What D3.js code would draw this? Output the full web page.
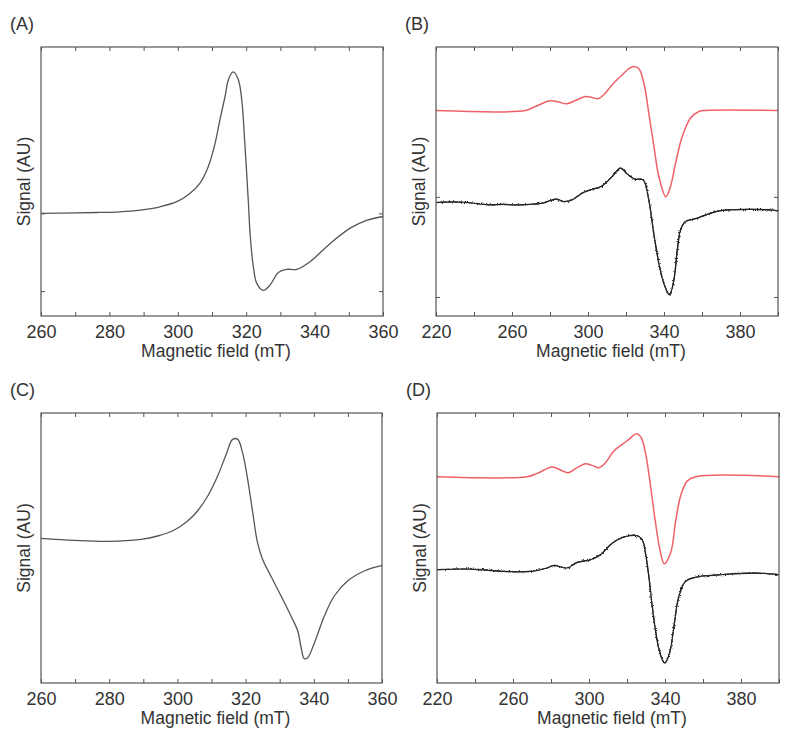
<!DOCTYPE html>
<html>
<head>
<meta charset="utf-8">
<script src="https://cdn.jsdelivr.net/npm/d3@7/dist/d3.min.js"></script>
<style>
  html, body { margin: 0; padding: 0; background: #fff; }
  svg text { font-family: "Liberation Sans", Arial, sans-serif; fill: #333; }
</style>
</head>
<body>
<svg id="chart" width="786" height="739"></svg>
<script>
// ---------- DATA ----------
// Panel A
const fieldA  = [260, 270, 277, 283, 289, 294.8, 299.7, 303.6, 306.5, 308.9, 310.9, 312.3, 313.8, 314.8, 316.2, 317.7, 318.7, 319.6, 320.6, 321.2, 322.1, 323.1, 325, 327, 329.4, 331.8, 334.8, 338.7, 344.5, 350.4, 355.2, 360];
const signalA = [0, 0.006, 0.012, 0.02, 0.042, 0.085, 0.15, 0.26, 0.39, 0.60, 0.90, 1.20, 1.50, 1.72, 1.82, 1.72, 1.46, 0.90, 0.17, -0.30, -0.69, -0.90, -0.99, -0.92, -0.76, -0.72, -0.72, -0.62, -0.39, -0.19, -0.09, -0.04];

// Panel B : simulated (red) and experimental (black)
const fieldBsim  = [220, 267, 272.3, 280.2, 284.6, 289, 293.4, 298.7, 302.2, 305.4, 308.3, 312.7, 318, 321.5, 324.1, 326.8, 329.4, 332, 334.7, 337.3, 341, 343.4, 346.1, 349.6, 354, 358.4, 361.9, 400];
const signalBsim = [0.863, 0.863, 0.903, 0.96, 0.947, 0.93, 0.963, 1.003, 0.993, 0.98, 1.02, 1.12, 1.22, 1.28, 1.303, 1.28, 1.137, 0.837, 0.503, 0.203, 0.0, 0.103, 0.337, 0.603, 0.787, 0.853, 0.863, 0.863];
const fieldBexp  = [220, 228, 237.2, 247.7, 255, 263.5, 275.8, 283.2, 287.2, 291.6, 296.9, 302.2, 306.6, 312.7, 317.1, 320.6, 324.6, 327.6, 329.4, 332, 334.6, 337.3, 339.9, 342.9, 345.2, 347, 348.7, 351.3, 357.5, 364.5, 368.9, 373.3, 386, 395.3, 400];
const signalBexp = [-0.057, -0.05, -0.057, -0.08, -0.075, -0.08, -0.063, -0.023, -0.047, -0.03, 0.037, 0.077, 0.10, 0.203, 0.287, 0.23, 0.177, 0.177, 0.163, -0.03, -0.363, -0.663, -0.863, -0.98, -0.83, -0.53, -0.33, -0.247, -0.213, -0.163, -0.14, -0.13, -0.125, -0.13, -0.14];

// Panel C
const fieldC  = [260, 269.8, 279.6, 289.3, 294.2, 299.1, 303, 305.9, 308.9, 311.8, 314.3, 316.2, 317.7, 319.1, 320.6, 322.1, 323.5, 325, 327.4, 330.4, 333.3, 335.3, 336.2, 337.2, 338.2, 340.2, 343.1, 346, 349.9, 354.8, 360];
const signalC = [0.013, -0.007, -0.017, 0.003, 0.037, 0.097, 0.187, 0.287, 0.437, 0.637, 0.853, 1.003, 1.003, 0.87, 0.603, 0.27, -0.03, -0.197, -0.363, -0.563, -0.763, -0.913, -1.063, -1.19, -1.18, -1.03, -0.763, -0.563, -0.413, -0.313, -0.257];

// Panel D : simulated (red) and experimental (black)
const fieldDsim  = [220, 267.4, 272.7, 280.6, 285, 289, 293.7, 298.1, 301.7, 305.2, 308.7, 313.1, 317.5, 321, 325, 327.5, 329.7, 332.4, 335, 337.3, 339.6, 343, 345.5, 348.2, 351.7, 356.1, 400];
const signalDsim = [0.93, 0.93, 0.963, 1.027, 0.997, 0.97, 1.02, 1.06, 1.043, 1.02, 1.07, 1.187, 1.253, 1.303, 1.36, 1.32, 1.17, 0.837, 0.47, 0.203, 0.06, 0.17, 0.47, 0.737, 0.887, 0.93, 0.93];
const fieldDexp  = [220, 237.6, 255.1, 269.2, 277.9, 281.5, 288.5, 293.7, 300.8, 306, 311.3, 315.7, 321, 325.4, 328, 329.7, 331.5, 333.3, 335.5, 337.6, 339.9, 342.4, 344.7, 347.3, 350.8, 357, 369.3, 386.8, 400];
const signalDexp = [0, 0.007, -0.017, -0.017, 0.017, 0.043, 0.017, 0.073, 0.1, 0.15, 0.25, 0.307, 0.34, 0.34, 0.3, 0.167, -0.067, -0.367, -0.667, -0.85, -0.933, -0.833, -0.567, -0.267, -0.117, -0.073, -0.05, -0.033, -0.05];

// Tick values and labels
const xTicksAC  = [260, 270, 280, 290, 300, 310, 320, 330, 340, 350, 360];
const xLabelsAC = [260, 280, 300, 320, 340, 360];
const xTicksBD  = [220, 240, 260, 280, 300, 320, 340, 360, 380, 400];
const xLabelsBD = [220, 260, 300, 340, 380];
const yTicksAB  = [0, -1];
const panelLetters = ["(A)", "(B)", "(C)", "(D)"];
const xTitle = "Magnetic field (mT)";
const yTitle = "Signal (AU)";

// ---------- LAYOUT ----------
const panels = [
  { letter: panelLetters[0], left: 41,  top: 47,  w: 342, h: 269, xd: [260, 360], yd: [-1.32, 2.14],  xt: xTicksAC, xl: xLabelsAC, yt: yTicksAB,
    series: [{ x: fieldA, y: signalA, color: "#555", width: 1.3 }] },
  { letter: panelLetters[1], left: 436, top: 47,  w: 342, h: 269, xd: [220, 400], yd: [-1.19, 1.497], xt: xTicksBD, xl: xLabelsBD, yt: yTicksAB,
    series: [{ x: fieldBsim, y: signalBsim, color: "#ef6168", width: 1.5 },
             { x: fieldBexp, y: signalBexp, color: "#222", width: 1.3, noisy: true }] },
  { letter: panelLetters[2], left: 41,  top: 413, w: 341, h: 270, xd: [260, 360], yd: [-1.433, 1.267], xt: xTicksAC, xl: xLabelsAC, yt: [],
    series: [{ x: fieldC, y: signalC, color: "#555", width: 1.3 }] },
  { letter: panelLetters[3], left: 437, top: 413, w: 342, h: 270, xd: [220, 400], yd: [-1.133, 1.567], xt: xTicksBD, xl: xLabelsBD, yt: [],
    series: [{ x: fieldDsim, y: signalDsim, color: "#ef6168", width: 1.5 },
             { x: fieldDexp, y: signalDexp, color: "#222", width: 1.3, noisy: true }] }
];

const svg = d3.select("#chart");
svg.append("rect").attr("width", 786).attr("height", 739).attr("fill", "#fff");

// texture filter giving the experimental traces their grainy look
const defs = svg.append("defs");
const f = defs.append("filter").attr("id", "grain")
  .attr("x", "-5%").attr("y", "-20%").attr("width", "110%").attr("height", "140%");
f.append("feTurbulence").attr("type", "fractalNoise").attr("baseFrequency", "0.9 0.9")
  .attr("numOctaves", 2).attr("seed", 3).attr("result", "noise");
f.append("feDisplacementMap").attr("in", "SourceGraphic").attr("in2", "noise")
  .attr("scale", 3).attr("xChannelSelector", "R").attr("yChannelSelector", "G");

panels.forEach(p => {
  const g = svg.append("g").attr("transform", `translate(${p.left},${p.top})`);
  const x = d3.scaleLinear().domain(p.xd).range([0, p.w]);
  const y = d3.scaleLinear().domain(p.yd).range([p.h, 0]);
  const line = d3.line().x(d => x(d[0])).y(d => y(d[1])).curve(d3.curveCatmullRom.alpha(0.5));

  // series
  p.series.forEach(s => {
    const pts = s.x.map((v, i) => [v, s.y[i]]);
    g.append("path")
      .attr("d", line(pts))
      .attr("fill", "none").attr("stroke", s.color).attr("stroke-width", s.noisy ? 1.1 : s.width)
      .attr("stroke-linejoin", "round");
    if (s.noisy) {
      g.append("path")
        .attr("d", line(pts))
        .attr("fill", "none").attr("stroke", s.color).attr("stroke-width", s.width)
        .attr("filter", "url(#grain)");
    }
  });

  // axes
  const fmt = d => p.xl.includes(d) ? String(d) : "";
  const bottom = g.append("g").attr("transform", `translate(0,${p.h})`)
    .call(d3.axisBottom(x).tickValues(p.xt).tickSize(-4).tickPadding(9).tickFormat(fmt));
  const top = g.append("g")
    .call(d3.axisTop(x).tickValues(p.xt).tickSize(-4).tickFormat(""));
  const left = g.append("g")
    .call(d3.axisLeft(y).tickValues(p.yt).tickSize(-4).tickFormat(""));
  const right = g.append("g").attr("transform", `translate(${p.w},0)`)
    .call(d3.axisRight(y).tickValues(p.yt).tickSize(-4).tickFormat(""));
  [bottom, top, left, right].forEach(a => {
    a.select(".domain").remove();
    a.selectAll(".tick line").attr("stroke", "#555").attr("stroke-width", 1);
  });
  bottom.selectAll(".tick text").attr("font-size", 18).attr("fill", "#333")
    .attr("font-family", "'Liberation Sans', Arial, sans-serif");

  // frame
  g.append("rect").attr("width", p.w).attr("height", p.h)
    .attr("fill", "none").attr("stroke", "#555").attr("stroke-width", 1.2);

  // titles
  g.append("text").attr("x", p.w / 2 + 4).attr("y", p.h + 41)
    .attr("text-anchor", "middle").attr("font-size", 17.5).text(xTitle);
  g.append("text").attr("transform", `translate(-11,${p.h / 2}) rotate(-90)`)
    .attr("text-anchor", "middle").attr("font-size", 17.5).text(yTitle);
  g.append("text").attr("x", -31).attr("y", -17)
    .attr("font-size", 18).text(p.letter);
});
</script>
</body>
</html>
